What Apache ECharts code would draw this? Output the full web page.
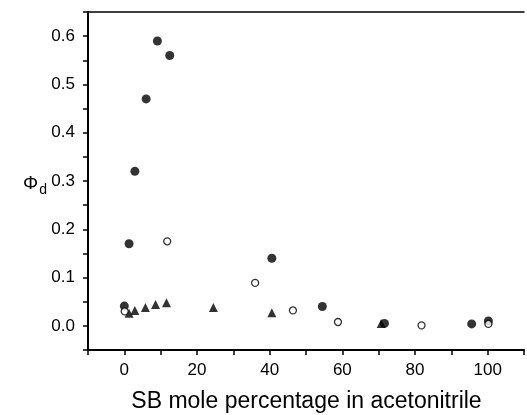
<!DOCTYPE html>
<html>
<head>
<meta charset="utf-8">
<script src="https://cdn.jsdelivr.net/npm/echarts@6/dist/echarts.min.js"></script>
<style>html,body{margin:0;padding:0;background:#fff}#c{width:527px;height:415px}</style>
</head>
<body>
<div id="c"></div>
<script>
// Filled circles
var filledX = [0, 1.3, 2.9, 6.0, 9.1, 12.5, 40.6, 54.5, 71.6, 95.6, 100.2];
var filledY = [0.041, 0.17, 0.32, 0.47, 0.59, 0.56, 0.14, 0.040, 0.005, 0.004, 0.010];
// Open circles
var openX = [0.1, 11.8, 36.0, 46.4, 58.8, 81.8, 100.2];
var openY = [0.030, 0.175, 0.089, 0.032, 0.008, 0.001, 0.004];
// Triangles
var triX = [1.3, 2.9, 5.8, 8.6, 11.6, 24.5, 40.6, 70.7];
var triY = [0.026, 0.032, 0.038, 0.044, 0.048, 0.038, 0.027, 0.005];

var xLabels = [0, 20, 40, 60, 80, 100];
var yLabels = [0.0, 0.1, 0.2, 0.3, 0.4, 0.5, 0.6];

function pairs(xs, ys) { return xs.map(function (x, i) { return [x, ys[i]]; }); }

var chart = echarts.init(document.getElementById('c'), null, {renderer: 'canvas'});
var font = 'Liberation Sans, Arial, sans-serif';
chart.setOption({
  animation: false,
  backgroundColor: '#fff',
  grid: {left: 88, top: 12, width: 443, height: 338, containLabel: false},
  xAxis: [{
    type: 'value', min: -10, max: 110, interval: 10,
    splitLine: {show: false},
    axisLine: {onZero: false, lineStyle: {color: '#000', width: 2}},
    axisTick: {inside: false, length: 5, lineStyle: {color: '#000', width: 1.5}},
    axisLabel: {
      color: '#000', fontFamily: font, fontSize: 17, margin: 12,
      formatter: function (v) {
        var r = Math.round(v);
        return xLabels.indexOf(r) >= 0 ? String(r) : '';
      }
    }
  }, {
    type: 'value', position: 'top', min: -10, max: 110,
    splitLine: {show: false},
    axisLine: {onZero: false, lineStyle: {color: '#000', width: 1.5}},
    axisTick: {show: false}, axisLabel: {show: false}
  }],
  yAxis: {
    type: 'value', min: -0.05, max: 0.65, interval: 0.05,
    splitLine: {show: false},
    axisLine: {onZero: false, lineStyle: {color: '#000', width: 2}},
    axisTick: {inside: false, length: 5, lineStyle: {color: '#000', width: 1.5}},
    axisLabel: {
      color: '#000', fontFamily: font, fontSize: 17, margin: 13,
      formatter: function (v) {
        var k = Math.round(v * 100);
        if (k % 10 !== 0 || k < 0) return '';
        var val = k / 100;
        return yLabels.indexOf(val) >= 0 ? val.toFixed(1) : '';
      }
    }
  },
  graphic: [{
    type: 'text', left: 23, top: 174,
    style: {
      text: '{a|Φ}{b|d}',
      rich: {
        a: {fontFamily: font, fontSize: 19, fill: '#000'},
        b: {fontFamily: font, fontSize: 14, fill: '#000', padding: [14, 0, 0, 1]}
      }
    }
  }, {
    type: 'text', x: 306.5, y: 402,
    style: {text: 'SB mole percentage in acetonitrile', fontFamily: font, fontSize: 23,
      fill: '#000', align: 'center', verticalAlign: 'middle'}
  }],
  series: [{
    type: 'scatter', data: pairs(triX, triY), symbol: 'triangle', symbolSize: 9,
    itemStyle: {color: '#000'}
  }, {
    type: 'scatter', data: pairs(filledX, filledY), symbol: 'circle', symbolSize: 9,
    itemStyle: {color: '#000'}
  }, {
    type: 'scatter', data: pairs(openX, openY), symbol: 'circle', symbolSize: 7,
    itemStyle: {color: '#fff', borderColor: '#000', borderWidth: 1.3}
  }]
});
</script>
</body>
</html>
